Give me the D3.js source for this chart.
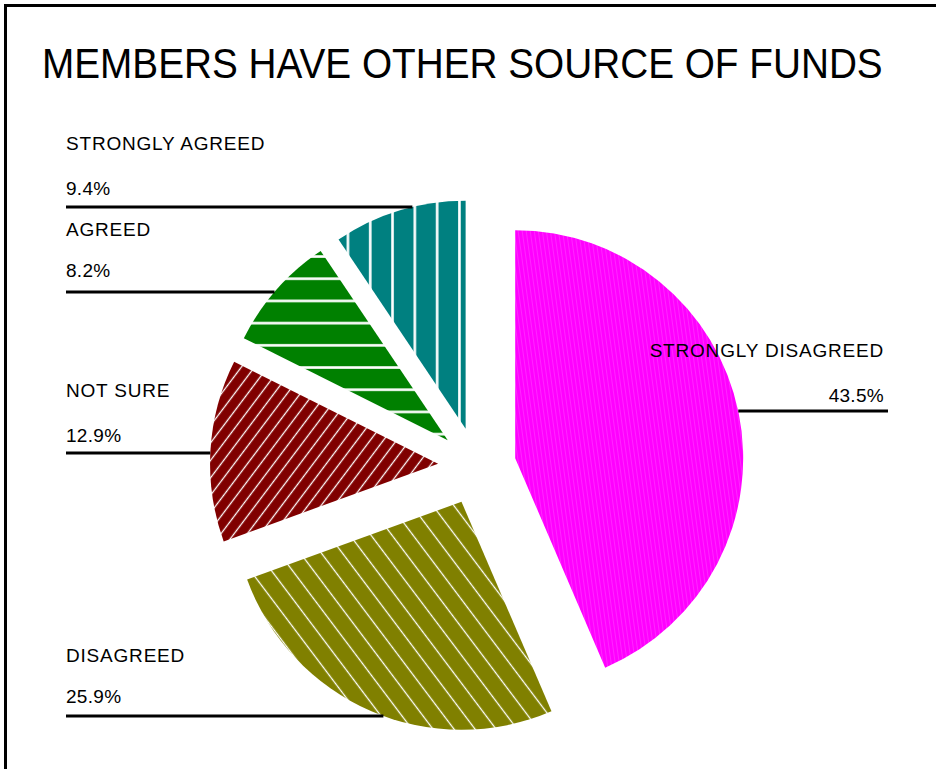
<!DOCTYPE html>
<html>
<head>
<meta charset="utf-8">
<script src="https://cdn.jsdelivr.net/npm/d3@7"></script>
<style>
  html, body { margin: 0; padding: 0; background: #fff; }
  svg { display: block; }
</style>
</head>
<body>
<svg id="chart" width="936" height="769"></svg>
<script>
// ---- data ----
const categories = ["STRONGLY DISAGREED", "DISAGREED", "NOT SURE", "AGREED", "STRONGLY AGREED"];
const values = [43.5, 25.9, 12.9, 8.2, 9.4];
const valueLabels = ["43.5%", "25.9%", "12.9%", "8.2%", "9.4%"];
const title = "MEMBERS HAVE OTHER SOURCE OF FUNDS";

// ---- styles / layout ----
const colors = ["#ff00ff", "#808000", "#800000", "#008000", "#008080"];
const W = 936, H = 769;
const cx = 477, cy = 466, R = 228, explode = 39;
const font = "'Liberation Sans', Arial, sans-serif";

// label layout: side, anchor x, name baseline, value baseline, leader y
const labelLayout = [
  { side: "right", x: 884, nameY: 357, valY: 402, lineY: 411, lineEnd: 888 },
  { side: "left", x: 66, nameY: 662, valY: 703, lineY: 716 },
  { side: "left", x: 66, nameY: 397, valY: 442, lineY: 453 },
  { side: "left", x: 66, nameY: 236, valY: 277, lineY: 292 },
  { side: "left", x: 66, nameY: 150, valY: 195, lineY: 207 }
];

const svg = d3.select("#chart");
const defs = svg.append("defs");

// magenta: faint light streaks
const pMag = defs.append("pattern").attr("id", "pat0").attr("patternUnits", "userSpaceOnUse")
  .attr("width", 4).attr("height", 40).attr("patternTransform", "rotate(-8)");
pMag.append("rect").attr("width", 4).attr("height", 40).attr("fill", colors[0]);
pMag.append("rect").attr("x", 2).attr("width", 1).attr("height", 40).attr("fill", "#ff55ff").attr("opacity", 0.45);

function linePattern(id, color, spacing, lw, angle, offset) {
  const p = defs.append("pattern").attr("id", id).attr("patternUnits", "userSpaceOnUse")
    .attr("width", spacing).attr("height", 100)
    .attr("patternTransform", `rotate(${angle}) translate(${offset},0)`);
  p.append("rect").attr("width", spacing).attr("height", 100).attr("fill", color);
  p.append("rect").attr("x", spacing / 2 - lw / 2).attr("width", lw).attr("height", 100).attr("fill", "#fff");
}
linePattern("pat1", colors[1], 16.8, 1.3, -37, 0);
linePattern("pat2", colors[2], 10.5, 1.3, 37, 0);
// green: horizontal lines
const pG = defs.append("pattern").attr("id", "pat3").attr("patternUnits", "userSpaceOnUse")
  .attr("width", 100).attr("height", 22.2).attr("y", 5);
pG.append("rect").attr("width", 100).attr("height", 22.2).attr("fill", colors[3]);
pG.append("rect").attr("y", 9.8).attr("width", 100).attr("height", 2.6).attr("fill", "#fff");
// teal: vertical lines
const pT = defs.append("pattern").attr("id", "pat4").attr("patternUnits", "userSpaceOnUse")
  .attr("width", 22.3).attr("height", 100).attr("x", 5);
pT.append("rect").attr("width", 22.3).attr("height", 100).attr("fill", colors[4]);
pT.append("rect").attr("x", 9.8).attr("width", 2.6).attr("height", 100).attr("fill", "#fff");

// frame
svg.append("path").attr("d", `M5.5,${H + 5} V5.5 H${W + 5}`)
  .attr("fill", "none").attr("stroke", "#000").attr("stroke-width", 3);

// title (horizontally condensed to match reference width)
const titleText = svg.append("text").attr("x", 0).attr("y", 0)
  .attr("font-family", font).attr("font-size", 42).attr("fill", "#000")
  .text(title);
const natW = titleText.node().getComputedTextLength();
const sx = 841 / natW;
titleText.attr("transform", `translate(42,78) scale(${sx},1)`);

// pie
const data = categories.map((c, i) => ({ name: c, value: values[i], label: valueLabels[i], i }));
const pie = d3.pie().value(d => d.value).sort(null);
const arcs = pie(data);
const arc = d3.arc().innerRadius(0).outerRadius(R);

const g = svg.append("g").attr("transform", `translate(${cx},${cy})`);
arcs.forEach(a => {
  const mid = (a.startAngle + a.endAngle) / 2;
  a.ox = explode * Math.sin(mid);
  a.oy = -explode * Math.cos(mid);
});
g.selectAll("path.slice").data(arcs).join("path")
  .attr("class", "slice")
  .attr("transform", d => `translate(${d.ox},${d.oy})`)
  .attr("d", arc)
  .attr("fill", d => `url(#pat${d.data.i})`);

// labels & leader lines
arcs.forEach(a => {
  const L = labelLayout[a.data.i];
  const ax = cx + a.ox, ay = cy + a.oy;
  const dy = L.lineY - ay;
  const dx = Math.sqrt(Math.max(0, R * R - dy * dy));
  const anchor = L.side === "right" ? "end" : "start";
  let x1, x2;
  if (L.side === "right") { x1 = ax + dx; x2 = L.lineEnd; }
  else { x1 = L.x; x2 = ax - dx; }
  svg.append("line").attr("x1", x1).attr("x2", x2).attr("y1", L.lineY).attr("y2", L.lineY)
    .attr("stroke", "#000").attr("stroke-width", 3);
  svg.append("text").attr("x", L.x).attr("y", L.nameY).attr("text-anchor", anchor)
    .attr("font-family", font).attr("font-size", 19).attr("letter-spacing", 0.8)
    .attr("fill", "#000").text(a.data.name);
  svg.append("text").attr("x", L.x).attr("y", L.valY).attr("text-anchor", anchor)
    .attr("font-family", font).attr("font-size", 19).attr("letter-spacing", 0.3)
    .attr("fill", "#000").text(a.data.label);
});
</script>
</body>
</html>
